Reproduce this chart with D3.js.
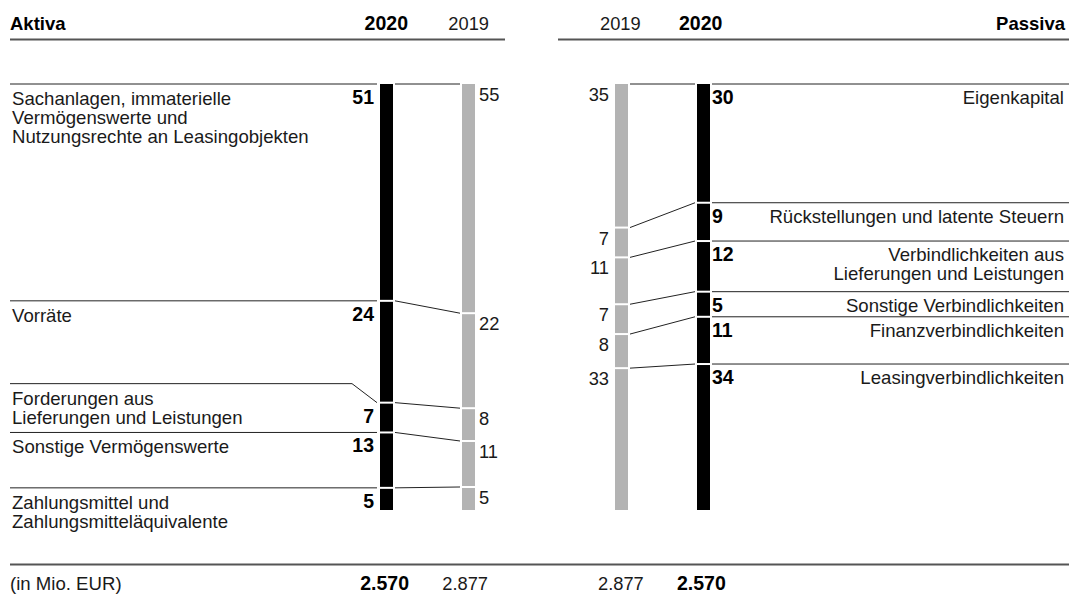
<!DOCTYPE html>
<html>
<head>
<meta charset="utf-8">
<script src="https://cdn.jsdelivr.net/npm/d3@7"></script>
<style>
  body { margin: 0; background: #fff; }
  svg { display: block; font-family: "Liberation Sans", Arial, sans-serif; }
  .lbl { font-size: 18.6px; fill: #1a1a1a; }
  .val { font-size: 19.5px; font-weight: bold; fill: #000; }
  .val19 { font-size: 18.3px; fill: #1a1a1a; }
  .head { font-size: 18.5px; font-weight: bold; fill: #000; }
</style>
</head>
<body>
<div id="chart"></div>
<script>
// Aktiva
const aktivaLabels = [
  ["Sachanlagen, immaterielle", "Vermögenswerte und", "Nutzungsrechte an Leasingobjekten"],
  ["Vorräte"],
  ["Forderungen aus", "Lieferungen und Leistungen"],
  ["Sonstige Vermögenswerte"],
  ["Zahlungsmittel und", "Zahlungsmitteläquivalente"]
];
const aktiva2020 = [51, 24, 7, 13, 5];
const aktiva2019 = [55, 22, 8, 11, 5];
// Anteile in %, wie die Balken gezeichnet sind
const aktiva2020Anteil = [50.9, 23.9, 7.0, 13.0, 5.2];
const aktiva2019Anteil = [53.8, 22.3, 7.7, 10.8, 5.4];

// Passiva
const passivaLabels = [
  ["Eigenkapital"],
  ["Rückstellungen und latente Steuern"],
  ["Verbindlichkeiten aus", "Lieferungen und Leistungen"],
  ["Sonstige Verbindlichkeiten"],
  ["Finanzverbindlichkeiten"],
  ["Leasingverbindlichkeiten"]
];
const passiva2020 = [30, 9, 12, 5, 11, 34];
const passiva2019 = [35, 7, 11, 7, 8, 33];
const passiva2020Anteil = [27.9, 9.0, 11.9, 5.9, 11.1, 34.3];
const passiva2019Anteil = [33.7, 7.0, 11.0, 7.0, 8.0, 33.3];

const jahre = ["2020", "2019"];
const summen = ["2.570", "2.877"];
const einheit = "(in Mio. EUR)";

const W = 1069, H = 596;
const yTop = 84, yBot = 510;
const barW = 13;

const svg = d3.select("#chart").append("svg")
  .attr("width", W).attr("height", H);

// Start/Ende je Segment (kumuliert)
function starts(arr) {
  const out = [];
  let s = 0;
  arr.forEach(v => { out.push([s, s + v]); s += v; });
  return out;
}

function scaleFor(arr) {
  return d3.scaleLinear().domain([0, d3.sum(arr)]).range([yTop, yBot]);
}

function drawBar(arr, x, color) {
  const y = scaleFor(arr);
  const segs = starts(arr);
  svg.append("g").selectAll("rect").data(segs).join("rect")
    .attr("x", x)
    .attr("y", (d, i) => y(d[0]) + (i > 0 ? 1 : 0))
    .attr("width", barW)
    .attr("height", (d, i) => y(d[1]) - y(d[0]) - (i > 0 ? 1 : 0) - (i < segs.length - 1 ? 1 : 0))
    .attr("fill", color);
  return segs.map(d => y(d[0]));
}

// Kopfzeile
svg.append("text").attr("class", "head").attr("x", 10).attr("y", 30).text("Aktiva");
svg.append("text").attr("class", "val").attr("x", 408).attr("y", 30).attr("text-anchor", "end").text(jahre[0]);
svg.append("text").attr("class", "val19").attr("x", 489).attr("y", 30).attr("text-anchor", "end").text(jahre[1]);
svg.append("text").attr("class", "val19").attr("x", 600).attr("y", 30).text(jahre[1]);
svg.append("text").attr("class", "val").attr("x", 679).attr("y", 30).text(jahre[0]);
svg.append("text").attr("class", "head").attr("x", 1065).attr("y", 30).attr("text-anchor", "end").text("Passiva");

svg.append("line").attr("x1", 10).attr("x2", 505).attr("y1", 39.5).attr("y2", 39.5)
  .attr("stroke", "#555").attr("stroke-width", 2);
svg.append("line").attr("x1", 558).attr("x2", 1069).attr("y1", 39.5).attr("y2", 39.5)
  .attr("stroke", "#555").attr("stroke-width", 2);

// Balken
const xA20 = 380, xA19 = 462, xP19 = 615, xP20 = 697;
const a20 = drawBar(aktiva2020Anteil, xA20, "#000");
const a19 = drawBar(aktiva2019Anteil, xA19, "#b3b3b3");
const p19 = drawBar(passiva2019Anteil, xP19, "#b3b3b3");
const p20 = drawBar(passiva2020Anteil, xP20, "#000");

const lines = svg.append("g").attr("fill", "none").attr("stroke", "#222").attr("stroke-width", 1);

// Aktiva: Verbindungen, Trennlinien, Texte
a20.forEach((yb, i) => {
  lines.append("line")
    .attr("x1", xA20 + barW + 2).attr("y1", yb)
    .attr("x2", xA19 - 2).attr("y2", a19[i]);

  const lift = aktivaLabels[i][0] === "Forderungen aus" ? 19 : 0;
  if (lift) {
    lines.append("path").attr("d", `M10,${yb - lift}H352L${xA20 - 3},${yb}`);
  } else {
    lines.append("line").attr("x1", 10).attr("x2", xA20 - 3).attr("y1", yb).attr("y2", yb);
  }

  const t = svg.append("text").attr("class", "lbl");
  aktivaLabels[i].forEach((s, k) => {
    t.append("tspan").attr("x", 12).attr("y", yb - lift + 21 + k * 19).text(s);
  });

  svg.append("text").attr("class", "val").attr("x", 374).attr("y", yb + 20)
    .attr("text-anchor", "end").text(aktiva2020[i]);
  svg.append("text").attr("class", "val19").attr("x", xA19 + barW + 4).attr("y", a19[i] + 17)
    .text(aktiva2019[i]);
});

// Passiva
p20.forEach((yb, i) => {
  lines.append("line")
    .attr("x1", xP19 + barW + 2).attr("y1", p19[i])
    .attr("x2", xP20 - 2).attr("y2", yb);
  lines.append("line").attr("x1", xP20 + barW + 2).attr("x2", 1069).attr("y1", yb).attr("y2", yb);

  const t = svg.append("text").attr("class", "lbl").attr("text-anchor", "end");
  passivaLabels[i].forEach((s, k) => {
    t.append("tspan").attr("x", 1064).attr("y", yb + 20 + k * 19).text(s);
  });

  svg.append("text").attr("class", "val").attr("x", xP20 + barW + 2).attr("y", yb + 20)
    .text(passiva2020[i]);
  svg.append("text").attr("class", "val19").attr("x", 609).attr("y", p19[i] + 17)
    .attr("text-anchor", "end").text(passiva2019[i]);
});

// Fusszeile
svg.append("line").attr("x1", 10).attr("x2", 1069).attr("y1", 564.5).attr("y2", 564.5)
  .attr("stroke", "#555").attr("stroke-width", 2);
svg.append("text").attr("class", "lbl").attr("x", 10).attr("y", 590).text(einheit);
svg.append("text").attr("class", "val").attr("x", 409).attr("y", 590).attr("text-anchor", "end").text(summen[0]);
svg.append("text").attr("class", "val19").attr("x", 488).attr("y", 590).attr("text-anchor", "end").text(summen[1]);
svg.append("text").attr("class", "val19").attr("x", 598).attr("y", 590).text(summen[1]);
svg.append("text").attr("class", "val").attr("x", 677).attr("y", 590).text(summen[0]);
</script>
</body>
</html>
